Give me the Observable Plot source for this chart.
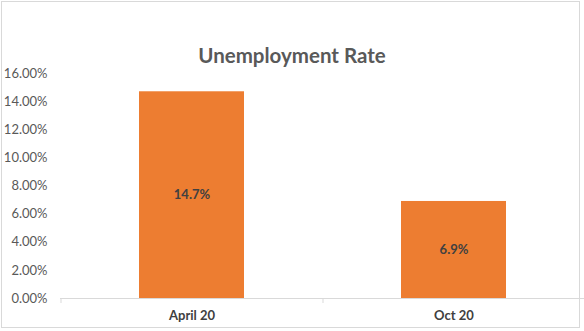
<!DOCTYPE html>
<html>
<head>
<meta charset="utf-8">
<script src="https://cdn.jsdelivr.net/npm/d3@7"></script>
<script src="https://cdn.jsdelivr.net/npm/@observablehq/plot@0.6"></script>
<style>
  html, body { margin: 0; padding: 0; background: #fff; }
  #wrap { position: relative; width: 584px; height: 331px; overflow: hidden; }
  #border { position: absolute; left: 1px; top: 1px; width: 577px; height: 325px; border: 1px solid #d9d9d9; box-sizing: content-box; }
  #title { position: absolute; left: 0; width: 584px; top: 43px; text-align: center;
           font-family: Lato, "Open Sans", sans-serif; font-weight: bold; font-size: 20.5px; color: #595959; }
  #chart { position: absolute; left: 0; top: 0; }
</style>
</head>
<body>
<div id="wrap">
  <div id="border"></div>
  <div id="chart"></div>
  <div id="title">Unemployment Rate</div>
</div>
<script>
const categories = ["April 20", "Oct 20"];
const rates = [0.147, 0.069];
const yTicks = [0, 0.02, 0.04, 0.06, 0.08, 0.10, 0.12, 0.14, 0.16];

const data = categories.map((c, i) => ({category: c, rate: rates[i]}));

const chart = Plot.plot({
  width: 584,
  height: 331,
  marginTop: 73,
  marginBottom: 33,
  marginLeft: 60,
  marginRight: 0,
  style: {fontFamily: "Lato, 'Open Sans', sans-serif", background: "transparent", overflow: "visible"},
  x: {domain: categories, paddingInner: 0.6, paddingOuter: 0.3, label: null},
  y: {domain: [0, 0.16], label: null},
  marks: [
    Plot.barY(data, {x: "category", y: "rate", fill: "#ED7D31"}),
    Plot.ruleY([0], {stroke: "#d9d9d9", strokeWidth: 1}),
    Plot.ruleX(data, {x: "category", y1: 0, y2: 0, insetBottom: -5, dx: -131, stroke: "#d9d9d9"}),
    Plot.text(data, {x: "category", y: d => d.rate / 2, text: d => d3.format(".1%")(d.rate),
      fill: "#404040", fontWeight: "bold", fontSize: 13}),
    Plot.axisY({ticks: yTicks, tickFormat: d3.format(".2%"), tickSize: 0, tickPadding: 13,
      fontSize: 13, fill: "#595959", label: null}),
    Plot.axisX({tickSize: 0, tickPadding: 12, fontSize: 13, fontWeight: "bold", fill: "#404040", label: null})
  ]
});
document.getElementById("chart").appendChild(chart);
</script>
</body>
</html>
